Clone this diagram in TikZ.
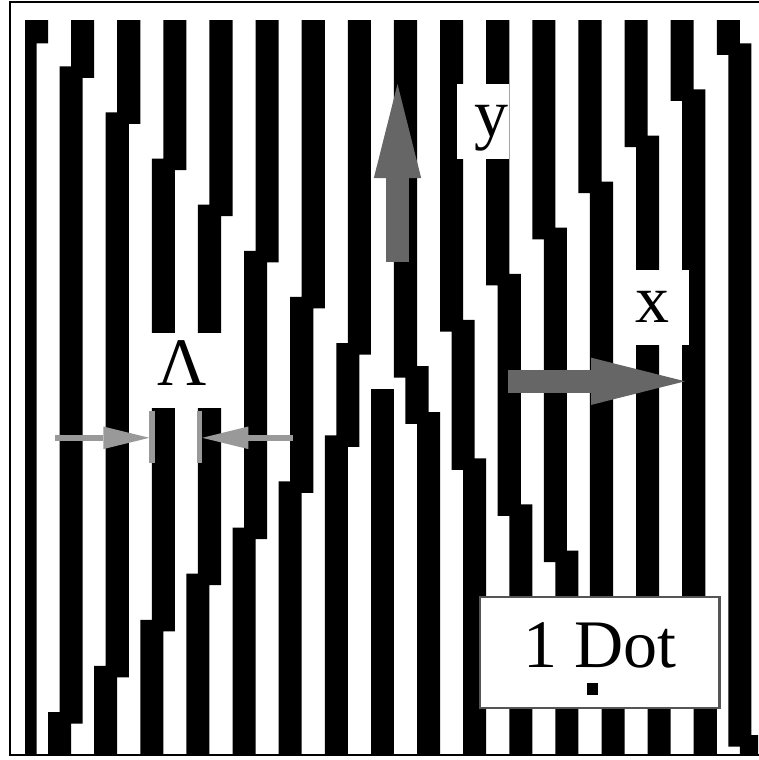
\documentclass[tikz,border=0pt]{standalone}
\usepackage{fontspec}
\setmainfont{Liberation Serif}
\usetikzlibrary{arrows.meta}
\definecolor{darkarrow}{HTML}{666666}
\definecolor{lightarrow}{HTML}{999999}
\definecolor{boxline}{HTML}{555555}
\tikzset{
  stripe/.style={fill=black},
  tag/.style={fill=white, inner sep=0pt, text height=52.5pt, text depth=22.5pt, anchor=north west, font=\fontsize{68}{80}\selectfont},
  axisarrow/.style={draw=darkarrow, line width=22.7pt, -{Triangle[length=94pt, width=47.3pt, line width=0pt]}},
  pitcharrow/.style={draw=lightarrow, line width=5.7pt, -{Triangle[length=46pt, width=22.6pt, line width=0pt]}},
  pitchbar/.style={draw=lightarrow, line width=5.7pt},
}
\begin{document}
\begin{tikzpicture}[x=1pt, y=-1pt]
\useasboundingbox (0,0) rectangle (758,760);
\begin{scope}
  \clip (11.3,3) rectangle (758,754.3);
  \begin{scope}[shift={(25,20.2)}, x=11.53pt, y=-11.53pt]
    % first stripe, cut by the left edge
    \fill[stripe] (0,0) -- (2,0) -- (2,2) -- (1,2) -- (1,64) -- (0,64) -- cycle;
    % stripes stepping to the left
    \foreach \c in {4,8,...,28}
      \fill[stripe] (\c,0) -- (\c+2,0) -- (\c+2,\c+1) -- (\c+1,\c+1) -- (\c+1,65-\c) -- (\c,65-\c) -- (\c,64)
        -- (\c-2,64) -- (\c-2,64-\c) -- (\c-1,64-\c) -- (\c-1,\c) -- (\c,\c) -- cycle;
    % the extra stripe of the fork
    \fill[stripe] (30,32) rectangle (32,64);
    % stripes stepping to the right
    \foreach \c in {32,36,...,60}
      \fill[stripe] (\c,0) -- (\c+2,0) -- (\c+2,62-\c) -- (\c+3,62-\c) -- (\c+3,\c+2) -- (\c+4,\c+2) -- (\c+4,64)
        -- (\c+2,64) -- (\c+2,\c+3) -- (\c+1,\c+3) -- (\c+1,63-\c) -- (\c,63-\c) -- cycle;
  \end{scope}
\end{scope}
\draw[line width=2pt] (10.3,2) rectangle (775,755.3);

% labels
\node[tag] (lambda) at (151,332.7) {\hspace*{5.8pt}Λ\hspace*{15.8pt}};
\node[tag] (ylabel) at (456.5,84) {\hspace*{18pt}y\hspace*{0.5pt}};
\node[tag] (xlabel) at (631.7,270) {\hspace*{3.8pt}x\hspace*{18.8pt}};
\node[draw=boxline, line width=2.3pt, fill=white, minimum width=239.7pt, minimum height=111.6pt, inner sep=0pt,
  text height=71.2pt, text depth=40.4pt, anchor=north west, font=\fontsize{68}{80}\selectfont] (dotbox) at (478.5,595.5) {1 Dot};
\node[fill=black, minimum size=11.6pt, inner sep=0pt] (dot) at (592.5,689.2) {};

% axis arrows
\coordinate (ytail) at (397.5,261.7);
\coordinate (yhead) at (397.5,84);
\coordinate (xtail) at (507.7,381.3);
\coordinate (xhead) at (685,381.3);
\draw[axisarrow] (ytail) -- (yhead);
\draw[axisarrow] (xtail) -- (xhead);

% grating period
\coordinate (lbartop) at (152.2,410.7);
\coordinate (lbarbot) at (152.2,462.7);
\coordinate (rbartop) at (199.5,410.7);
\coordinate (rbarbot) at (199.5,462.7);
\coordinate (ltail) at (55,437.8);
\coordinate (lhead) at (149.3,437.8);
\coordinate (rtail) at (293.3,437.8);
\coordinate (rhead) at (202.3,437.8);
\draw[pitchbar] (lbartop) -- (lbarbot);
\draw[pitchbar] (rbartop) -- (rbarbot);
\draw[pitcharrow] (ltail) -- (lhead);
\draw[pitcharrow] (rtail) -- (rhead);
\end{tikzpicture}
\end{document}
